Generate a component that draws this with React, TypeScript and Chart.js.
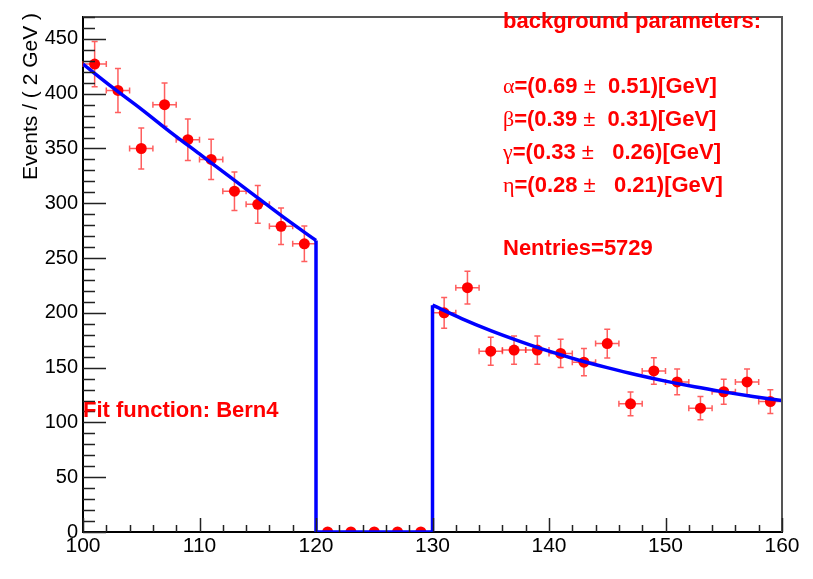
import React, { useEffect, useRef } from 'react';
import { Chart, registerables } from 'chart.js';
Chart.register(...registerables);

// ---- data ----
const binCenters = [101, 103, 105, 107, 109, 111, 113, 115, 117, 119, 121, 123, 125, 127, 129, 131, 133, 135, 137, 139, 141, 143, 145, 147, 149, 151, 153, 155, 157, 159];
const counts = [427, 403, 350, 390, 358, 340, 311, 299, 279, 263, 0, 0, 0, 0, 0, 200, 223, 165, 166, 166, 163, 155, 172, 117, 147, 137, 113, 128, 137, 119];
const countErrors = [20.7, 20.1, 18.7, 19.7, 18.9, 18.4, 17.6, 17.3, 16.7, 16.2, 0, 0, 0, 0, 0, 14.1, 14.9, 12.8, 12.9, 12.9, 12.8, 12.4, 13.1, 10.8, 12.1, 11.7, 10.6, 11.3, 11.7, 10.9];
const binHalfWidth = 1;

// fit curve
const fitLeftX = [100, 102.5, 105, 107.5, 110, 112.5, 115, 117.5, 120];
const fitLeftY = [427, 406, 386, 365, 345, 325, 305, 285, 266];
const fitGapX = [120, 120, 130, 130];
const fitGapY = [266, 0, 0, 207];
const fitRightX = [130, 132.5, 135, 137.5, 140, 142.5, 145, 147.5, 150, 152.5, 155, 157.5, 160];
const fitRightY = [207, 194.8, 183.8, 174, 165, 157, 150, 143.5, 137.7, 132.5, 127.9, 123.7, 119.9];

const xTickValues = [100, 110, 120, 130, 140, 150, 160];
const yTickValues = [0, 50, 100, 150, 200, 250, 300, 350, 400, 450];
const xMinorStep = 2;
const yMinorStep = 10;

const yTitle = 'Events / ( 2 GeV )';
const paramHeader = 'background parameters:';
const paramNames = ['α', 'β', 'γ', 'η'];
const paramValues = ['0.69', '0.39', '0.33', '0.28'];
const paramErrors = ['  0.51', '  0.31', '   0.26', '   0.21'];
const entriesText = 'Nentries=5729';
const fitText = 'Fit function: Bern4';

const SANS = "'Liberation Sans', Arial, Helvetica, sans-serif";
const SERIF = "'Liberation Serif', 'Times New Roman', serif";
const RED = '#ff0000';
const BLUE = '#0000ff';

const errorBarPlugin = {
  id: 'errorBars',
  beforeDatasetsDraw(chart: any) {
    const { ctx, scales } = chart;
    const x = scales.x, y = scales.y;
    ctx.save();
    ctx.strokeStyle = 'rgba(255,40,40,0.75)';
    ctx.lineWidth = 1.5;
    binCenters.forEach((c, i) => {
      const v = counts[i];
      const e = countErrors[i];
      if (v <= 0) return;
      const px = x.getPixelForValue(c);
      const py = y.getPixelForValue(v);
      const x0 = x.getPixelForValue(c - binHalfWidth);
      const x1 = x.getPixelForValue(c + binHalfWidth);
      const y0 = y.getPixelForValue(v - e);
      const y1 = y.getPixelForValue(v + e);
      ctx.beginPath();
      ctx.moveTo(x0, py); ctx.lineTo(x1, py);
      ctx.moveTo(x0, py - 3); ctx.lineTo(x0, py + 3);
      ctx.moveTo(x1, py - 3); ctx.lineTo(x1, py + 3);
      ctx.moveTo(px, y0); ctx.lineTo(px, y1);
      ctx.moveTo(px - 3, y0); ctx.lineTo(px + 3, y0);
      ctx.moveTo(px - 3, y1); ctx.lineTo(px + 3, y1);
      ctx.stroke();
    });
    ctx.restore();
  },
};

const framePlugin = {
  id: 'frameTicks',
  afterDraw(chart: any) {
    const { ctx, chartArea, scales } = chart;
    const { left, right, top, bottom } = chartArea;
    const x = scales.x, y = scales.y;
    ctx.save();
    // top / right frame
    ctx.strokeStyle = '#555';
    ctx.lineWidth = 2;
    ctx.beginPath();
    ctx.moveTo(left, top);
    ctx.lineTo(right, top);
    ctx.lineTo(right, bottom);
    ctx.stroke();
    // ticks
    ctx.strokeStyle = '#222';
    ctx.lineWidth = 1.5;
    ctx.beginPath();
    for (let v = y.min; v <= y.max + 1e-9; v += yMinorStep) {
      const py = Math.round(y.getPixelForValue(v)) + 0.5;
      const len = Math.abs(v % 50) < 1e-9 ? 23 : 12;
      ctx.moveTo(left, py);
      ctx.lineTo(left + len, py);
    }
    for (let v = x.min; v <= x.max + 1e-9; v += xMinorStep) {
      const px = Math.round(x.getPixelForValue(v)) + 0.5;
      const len = Math.abs(v % 10) < 1e-9 ? 14 : 7;
      ctx.moveTo(px, bottom);
      ctx.lineTo(px, bottom - len);
    }
    ctx.stroke();

    // y title
    ctx.save();
    ctx.translate(37, 13);
    ctx.rotate(-Math.PI / 2);
    ctx.font = `21px ${SANS}`;
    ctx.fillStyle = '#000';
    ctx.textAlign = 'right';
    ctx.textBaseline = 'alphabetic';
    ctx.fillText(yTitle, 0, 0);
    ctx.restore();

    // annotations
    ctx.fillStyle = RED;
    ctx.textAlign = 'left';
    ctx.textBaseline = 'alphabetic';
    const bold = `bold 22px ${SANS}`;
    ctx.font = bold;
    const tx = 503;
    ctx.fillText(paramHeader, tx, 28);
    const baselines = [93, 126, 159, 192];
    paramNames.forEach((g, i) => {
      let cx = tx;
      const by = baselines[i];
      ctx.font = `22px ${SERIF}`;
      ctx.fillText(g, cx, by);
      cx += ctx.measureText(g).width;
      ctx.font = bold;
      const s1 = `=(${paramValues[i]} `;
      ctx.fillText(s1, cx, by);
      cx += ctx.measureText(s1).width;
      ctx.font = `22px ${SANS}`;
      ctx.fillText('±', cx, by);
      cx += ctx.measureText('±').width;
      ctx.font = bold;
      ctx.fillText(`${paramErrors[i]})[GeV]`, cx, by);
    });
    ctx.font = bold;
    ctx.fillText(entriesText, tx, 255);
    ctx.fillText(fitText, left, 417);
    ctx.restore();
  },
};

const lineDs = (xs: number[], ys: number[], smooth: boolean) => ({
  data: xs.map((v, i) => ({ x: v, y: ys[i] })),
  showLine: true,
  borderColor: BLUE,
  backgroundColor: BLUE,
  borderWidth: 3.5,
  pointRadius: 0,
  tension: 0,
  cubicInterpolationMode: smooth ? 'monotone' : 'default',
  fill: false,
  borderJoinStyle: 'miter',
});

export default function App() {
  const ref = useRef<HTMLCanvasElement | null>(null);
  useEffect(() => {
    if (!ref.current) return;
    const chart = new Chart(ref.current, {
      type: 'scatter',
      data: {
        datasets: [
          lineDs(fitLeftX, fitLeftY, true),
          lineDs(fitGapX, fitGapY, false),
          lineDs(fitRightX, fitRightY, true),
          {
            label: 'data',
            data: binCenters.map((c, i) => ({ x: c, y: counts[i] })),
            showLine: false,
            pointRadius: 5.5,
            pointBackgroundColor: RED,
            pointBorderColor: RED,
            pointBorderWidth: 0,
          },
        ],
      },
      options: {
        animation: false,
        responsive: false,
        maintainAspectRatio: false,
        layout: { padding: { top: 14, right: 31, left: 0, bottom: 0 } },
        plugins: { legend: { display: false }, tooltip: { enabled: false }, title: { display: false } },
        scales: {
          x: {
            type: 'linear',
            min: 100,
            max: 160,
            afterBuildTicks: (s: any) => { s.ticks = xTickValues.map((value) => ({ value })); },
            afterFit: (s: any) => { s.height = 47; },
            ticks: { font: { size: 21, family: SANS }, color: '#000', padding: 2, autoSkip: false, maxRotation: 0 },
            grid: { display: false, drawTicks: false },
            border: { display: true, color: '#000', width: 2 },
          },
          y: {
            type: 'linear',
            min: 0,
            max: 470,
            afterBuildTicks: (s: any) => { s.ticks = yTickValues.map((value) => ({ value })); },
            afterFit: (s: any) => { s.width = 83; },
            ticks: { font: { size: 20, family: SANS }, color: '#000', padding: 5, autoSkip: false },
            grid: { display: false, drawTicks: false },
            border: { display: true, color: '#000', width: 2 },
          },
        },
      },
      plugins: [errorBarPlugin, framePlugin],
    } as any);
    return () => chart.destroy();
  }, []);
  return (
    <div style={{ position: 'fixed', left: 0, top: 0, width: 813, height: 579, background: '#fff' }}>
      <canvas ref={ref} width={813} height={579} style={{ display: 'block' }} />
    </div>
  );
}
